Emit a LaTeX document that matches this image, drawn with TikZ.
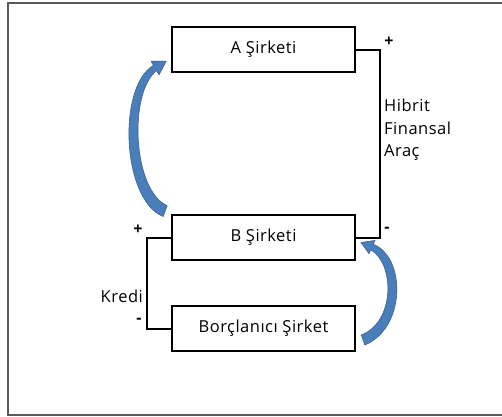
\documentclass[tikz,border=0pt]{standalone}
\usepackage{fontspec}
\setmainfont{Open Sans}[LetterSpace=3]
\begin{document}
\begin{tikzpicture}[x=1pt,y=-1pt,
  company/.style={draw=black,line width=2.4pt,minimum width=183pt,minimum height=45pt,inner sep=0pt,font=\fontsize{16.5}{20}\selectfont},
  link/.style={draw=black,line width=2pt},
  sign/.style={font=\fontsize{16}{18}\selectfont\bfseries,inner sep=0pt},
  lbl/.style={font=\fontsize{16.5}{22.5}\selectfont,inner sep=0pt},
  flow/.style={fill={rgb,255:red,74;green,126;blue,187},draw={rgb,255:red,56;green,98;blue,146},line width=0.6pt,line join=round}]
\useasboundingbox (0,0) rectangle (502,416);
% outer frame
\draw[draw={rgb,255:red,90;green,90;blue,90},line width=1.2pt] (8,3) rectangle (506,415);

% companies
\node[company] (A) at (263.5,49.5) {A Şirketi};
\node[company] (B) at (263.5,237.5) {B Şirketi};
\node[company] (C) at (263.5,328.5) {Borçlanıcı Şirket};

% hybrid instrument link between A and B
\coordinate (ra) at (380,0);
\draw[link] (A.east) -- (A.east -| ra) -- (B.east -| ra) -- (B.east);
\node[sign] (p1) at (389,42) {+};
\node[sign] (m1) at (387,230) {-};
\node[lbl,anchor=north west,align=left] (hfa) at (384,99) {Hibrit\\Finansal\\Araç};

% loan link between B and the borrower
\coordinate (lb) at (147,0);
\draw[link] (B.west) -- (B.west -| lb) -- (C.west -| lb) -- (C.west);
\node[sign] (p2) at (138,230) {+};
\node[sign] (m2) at (139,321) {-};
\node[lbl,anchor=east] (kr) at (143,296) {Kredi};

% curved flow from B up to A
\path[flow] (163.1,216.5) .. controls (122,200) and (117,87) .. (153.4,65.4)
  -- (151.1,61.2) -- (166.2,61.2) -- (159,74.8) -- (156.6,70.6)
  .. controls (128,93) and (133,191) .. (167.2,205.6) -- cycle;

% curved flow from the borrower up to B
\path[flow] (364.8,345) .. controls (406,328) and (406,257) .. (373.2,244.2)
  -- (375,240.4) -- (361,242.5) -- (369,253.6) -- (370.8,249.8)
  .. controls (395,264) and (395,322) .. (361.3,335) -- cycle;
\end{tikzpicture}
\end{document}
